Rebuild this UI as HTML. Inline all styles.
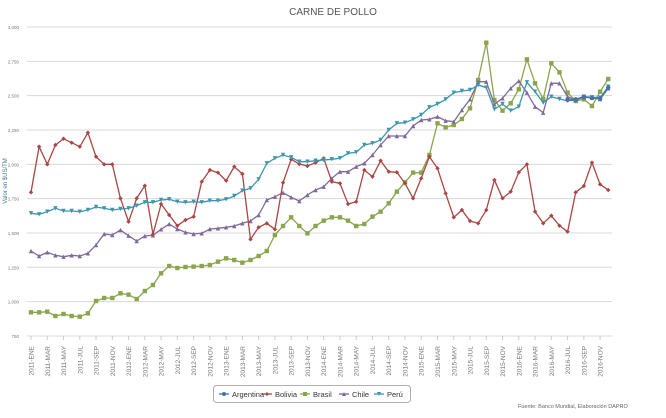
<!DOCTYPE html>
<html><head><meta charset="utf-8"><style>
html,body{margin:0;padding:0;background:#fff;width:666px;height:418px;overflow:hidden}
svg{display:block;font-family:"Liberation Sans",sans-serif}
</style></head><body>
<svg id="s" width="666" height="418" xmlns="http://www.w3.org/2000/svg">
<text x="333" y="15" text-anchor="middle" font-size="10" fill="#555">CARNE DE POLLO</text>
<text transform="translate(7,181) rotate(-90)" text-anchor="middle" font-size="6" fill="#4d759e">Valor en $US/TM</text>
<rect x="213.5" y="385.5" width="197" height="17" rx="3" fill="#fff" stroke="#999" stroke-width="0.8"/>
<g id="g"></g>
<text x="518" y="408" font-size="5.5" fill="#666">Fuente: Banco Mundial, Elaboración DAPRO</text>
</svg>
<script>
var g=document.getElementById('g'),h='';
var ticks=['3,000','2,750','2,500','2,250','2,000','1,750','1,500','1,250','1,000','750'];
for(var k=0;k<10;k++){var y=27+k*34.33;
h+='<line x1="27" x2="612" y1="'+y+'" y2="'+y+'" stroke="#d8d8d8" stroke-width="1"/>';
h+='<text x="19" y="'+(y+2)+'" text-anchor="end" font-size="4.5" fill="#777">'+ticks[k]+'</text>';}
var mo=['ENE','MAR','MAY','JUL','SEP','NOV'];
function X(i){return 31+8.13*i;}
for(var k=0;k<36;k++){var x=X(2*k),yr=2011+Math.floor(k/6);
h+='<line x1="'+x+'" x2="'+x+'" y1="336" y2="340" stroke="#ccc"/>';
h+='<text transform="translate('+(x+2.5)+',346) rotate(-90)" text-anchor="end" font-size="6.5" fill="#777">'+yr+'-'+mo[k%6]+'</text>';}
function z1(a){return a.map(function(v){return 20+v/3;});}
function z5(a){return a.map(function(v){return 120+v/3;});}
var peru=z1([580,583,575,565,573,573,575,570,561,565,570,567,565,557,547,547,540,538,545,547]).concat(z5([245,247,242,242,238,228,212,205,178,130,115,105,112,125,125,122,120,118,115,100,97,75,70,60,30,10])).concat(z1([308,298,285,262,252,238,218,213,210,195,203,268,252,272,260,187,215,248,230,237,242,240,230,232,233,200]));
var bol=z1([517,380,433,375,356,368,380,338,410,433,433,535,605,535,497,643,552,585,617,600]).concat(z5([290,185,150,158,182,140,162,358,322,310,328,188,118,132,138,128,115,185,190,252,245,150,170,122,155,157])).concat(z1([490,535,475,410,445,520,592,570,603,610,570,480,535,515,457,433,575,610,587,617,635,517,498,428,493,510]));
var chi=z1([693,708,697,706,710,706,708,700,675,642,645,630,647,663,648,646,628,612,627,637]).concat(z5([342,340,327,325,322,318,310,303,285,240,230,218,232,243,225,210,200,175,155,155,140,130,105,75,48,48])).concat(z1([348,318,300,298,290,302,305,270,238,185,185,253,235,205,183,218,260,278,190,190,230,240,232,233,237,205]));
var bra=z1([877,877,875,888,882,888,890,880,843,834,834,820,824,837,813,795,760,738,744,741]).concat(z5([440,438,435,425,415,420,428,420,408,393,345,318,292,318,340,318,302,292,292,302,318,312,290,275,250,215])).concat(z1([487,458,458,405,310,322,315,297,265,180,68,240,272,250,208,118,190,237,130,157,218,243,238,258,215,177]));
function series(ys,c,m,start){start=start||0;var p=ys.map(function(y,i){return X(i+start).toFixed(1)+','+y.toFixed(1);}).join(' ');
h+='<polyline points="'+p+'" fill="none" stroke="'+c+'" stroke-width="1.3"/>';
ys.forEach(function(y,i){var x=X(i+start),s=2.2;
if(m=='sq')h+='<rect x="'+(x-s)+'" y="'+(y-s)+'" width="'+2*s+'" height="'+2*s+'" fill="'+c+'"/>';
else if(m=='di')h+='<polygon points="'+x+','+(y-s)+' '+(x+s)+','+y+' '+x+','+(y+s)+' '+(x-s)+','+y+'" fill="'+c+'"/>';
else if(m=='tu')h+='<polygon points="'+x+','+(y-s)+' '+(x+s)+','+(y+s)+' '+(x-s)+','+(y+s)+'" fill="'+c+'"/>';
else if(m=='td')h+='<polygon points="'+x+','+(y+s)+' '+(x+s)+','+(y-s)+' '+(x-s)+','+(y-s)+'" fill="'+c+'"/>';
else h+='<circle cx="'+x+'" cy="'+y+'" r="'+s+'" fill="'+c+'"/>';});}
series(bra,'#89A54E','sq');
series(chi,'#80699B','tu');
series(bol,'#AA4643','di');
series(peru,'#3D96AE','td');
series(z1([240,238,230,234,236,203]),'#4572A7','ci',66);
var L=[['Argentina','#4572A7','ci'],['Bolivia','#AA4643','di'],['Brasil','#89A54E','sq'],['Chile','#80699B','tu'],['Perú','#3D96AE','td']];
var lx=[219,262,300,339,374];
L.forEach(function(l,i){var x=lx[i];
h+='<line x1="'+x+'" x2="'+(x+10)+'" y1="394" y2="394" stroke="'+l[1]+'" stroke-width="1.3"/>';
var cx=x+5,cy=394,s=2;
if(l[2]=='sq')h+='<rect x="'+(cx-s)+'" y="'+(cy-s)+'" width="4" height="4" fill="'+l[1]+'"/>';
else if(l[2]=='di')h+='<polygon points="'+cx+','+(cy-s)+' '+(cx+s)+','+cy+' '+cx+','+(cy+s)+' '+(cx-s)+','+cy+'" fill="'+l[1]+'"/>';
else if(l[2]=='tu')h+='<polygon points="'+cx+','+(cy-s)+' '+(cx+s)+','+(cy+s)+' '+(cx-s)+','+(cy+s)+'" fill="'+l[1]+'"/>';
else if(l[2]=='td')h+='<polygon points="'+cx+','+(cy+s)+' '+(cx+s)+','+(cy-s)+' '+(cx-s)+','+(cy-s)+'" fill="'+l[1]+'"/>';
else h+='<circle cx="'+cx+'" cy="'+cy+'" r="2" fill="'+l[1]+'"/>';
h+='<text x="'+(x+13)+'" y="397" font-size="7.5" fill="#333">'+l[0]+'</text>';});
g.innerHTML=h;
</script>
</body></html>
